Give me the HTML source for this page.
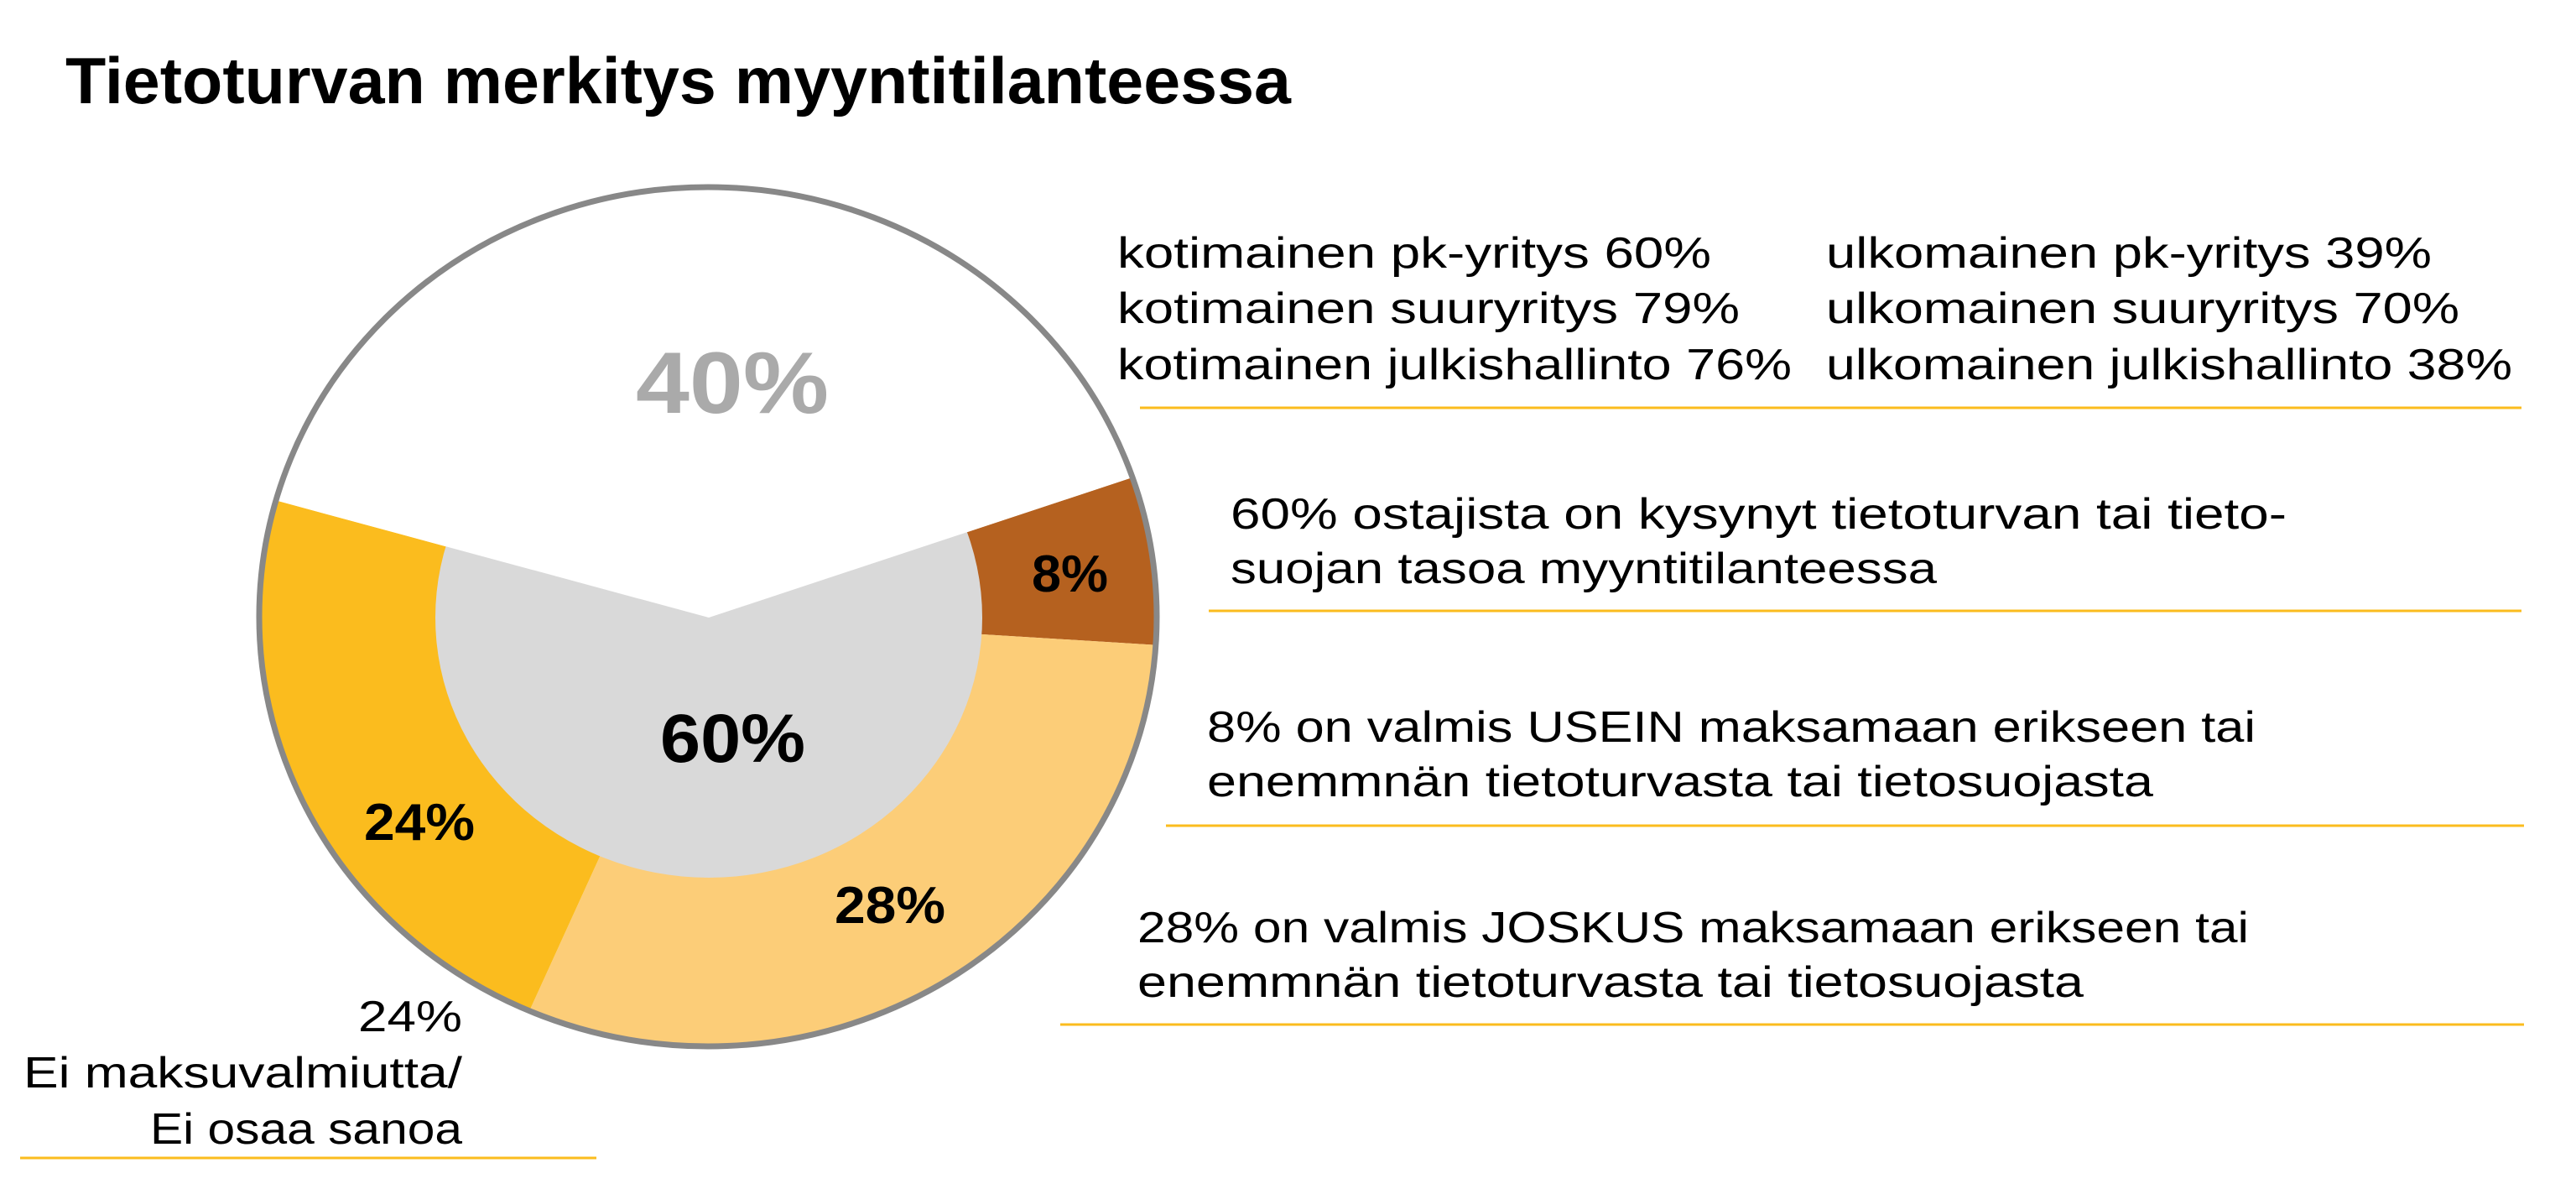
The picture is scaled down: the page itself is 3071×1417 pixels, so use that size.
<!DOCTYPE html>
<html><head><meta charset="utf-8"><style>html,body{margin:0;padding:0;background:#fff;}svg{display:block}</style></head>
<body>
<svg width="3071" height="1417" viewBox="0 0 3071 1417" xmlns="http://www.w3.org/2000/svg" font-family="'Liberation Sans', sans-serif">
<rect width="3071" height="1417" fill="#fff"/>
<text x="78" y="123" font-size="78" font-weight="bold" textLength="1461" lengthAdjust="spacingAndGlyphs">Tietoturvan merkitys myyntitilanteessa</text>
<g>
<path d="M845,736 L1350.4,568.9 A534,511 0 0 1 1378.9,768.7 Z" fill="#B5611F"/>
<path d="M845,736 L1378.9,768.7 A534,511 0 0 1 631.6,1203.7 Z" fill="#FCCD78"/>
<path d="M845,736 L631.6,1203.7 A534,511 0 0 1 330.5,596.8 Z" fill="#FBBC1E"/>
<ellipse cx="845" cy="736" rx="326" ry="310" fill="#D9D9D9"/>
<path d="M845,736 L330.5,596.8 A534,511 0 0 1 1350.4,568.9 Z" fill="#fff"/>
<ellipse cx="844" cy="735" rx="535" ry="512" fill="none" stroke="#888" stroke-width="7"/>
</g>
<text x="758" y="492" font-size="104" font-weight="bold" fill="#AAAAAA" textLength="230" lengthAdjust="spacingAndGlyphs">40%</text>
<text x="787" y="908" font-size="82" font-weight="bold" textLength="173" lengthAdjust="spacingAndGlyphs">60%</text>
<text x="1230" y="705" font-size="62" font-weight="bold" textLength="91" lengthAdjust="spacingAndGlyphs">8%</text>
<text x="434" y="1001" font-size="62" font-weight="bold" textLength="132" lengthAdjust="spacingAndGlyphs">24%</text>
<text x="995" y="1100" font-size="62" font-weight="bold" textLength="132" lengthAdjust="spacingAndGlyphs">28%</text>
<g font-size="52">
<text x="1332" y="319" textLength="708" lengthAdjust="spacingAndGlyphs">kotimainen pk-yritys 60%</text>
<text x="1332" y="385" textLength="742" lengthAdjust="spacingAndGlyphs">kotimainen suuryritys 79%</text>
<text x="1332" y="452" textLength="804" lengthAdjust="spacingAndGlyphs">kotimainen julkishallinto 76%</text>
<text x="2177" y="319" textLength="722" lengthAdjust="spacingAndGlyphs">ulkomainen pk-yritys 39%</text>
<text x="2177" y="385" textLength="755" lengthAdjust="spacingAndGlyphs">ulkomainen suuryritys 70%</text>
<text x="2177" y="452" textLength="818" lengthAdjust="spacingAndGlyphs">ulkomainen julkishallinto 38%</text>
<text x="1467" y="630" textLength="1259" lengthAdjust="spacingAndGlyphs">60% ostajista on kysynyt tietoturvan tai tieto-</text>
<text x="1467" y="695" textLength="842" lengthAdjust="spacingAndGlyphs">suojan tasoa myyntitilanteessa</text>
<text x="1439" y="884" textLength="1250" lengthAdjust="spacingAndGlyphs">8% on valmis USEIN maksamaan erikseen tai</text>
<text x="1439" y="949" textLength="1128" lengthAdjust="spacingAndGlyphs">enemmnän tietoturvasta tai tietosuojasta</text>
<text x="1356" y="1123" textLength="1325" lengthAdjust="spacingAndGlyphs">28% on valmis JOSKUS maksamaan erikseen tai</text>
<text x="1356" y="1188" textLength="1128" lengthAdjust="spacingAndGlyphs">enemmnän tietoturvasta tai tietosuojasta</text>
<text x="427" y="1229" textLength="124" lengthAdjust="spacingAndGlyphs">24%</text>
<text x="28" y="1296" textLength="523" lengthAdjust="spacingAndGlyphs">Ei maksuvalmiutta/</text>
<text x="179" y="1363" textLength="372" lengthAdjust="spacingAndGlyphs">Ei osaa sanoa</text>
</g>
<g stroke="#FBBC1E" stroke-width="3">
<line x1="1359" y1="486" x2="3006" y2="486"/>
<line x1="1441" y1="728" x2="3006" y2="728"/>
<line x1="1390" y1="984" x2="3009" y2="984"/>
<line x1="1264" y1="1221" x2="3009" y2="1221"/>
<line x1="24" y1="1380" x2="711" y2="1380"/>
</g>
</svg>
</body></html>
